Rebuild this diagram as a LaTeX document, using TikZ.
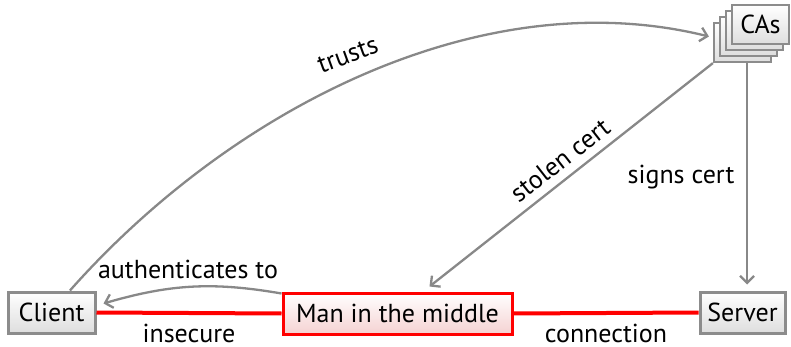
\documentclass[tikz,border=0pt]{standalone}
\usepackage{fontspec}
\setmainfont{PT Sans}
\usetikzlibrary{arrows.meta,calc}
\definecolor{boxgray}{HTML}{8C8C8C}
\definecolor{arrgray}{HTML}{888888}
\definecolor{mred}{HTML}{FF0000}
\definecolor{mpink}{HTML}{F5D2D2}
\begin{document}
\begin{tikzpicture}[x=1pt,y=-1pt,
  txt/.style={font=\fontsize{26}{28}\selectfont, text=black},
  box/.style={txt, draw=boxgray, line width=3pt, top color=white, bottom color=black!13, minimum height=41pt, inner sep=0pt},
  mbox/.style={box, draw=mred, top color=white, bottom color=mpink},
  cabox/.style={box, minimum width=57pt, minimum height=39pt, line width=2.2pt},
  arr/.style={draw=arrgray, line width=2.3pt, -{Straight Barb[length=7pt,width=14pt]}},
  redline/.style={draw=mred, line width=4pt},
  lbl/.style={txt}]
\useasboundingbox (0,0) rectangle (791,347);
% CAs stack
\node[cabox] (cab) at (742.5,42.5) {};
\node[cabox] (cac) at (748.5,36.5) {};
\node[cabox] (cad) at (754.5,30.5) {};
\node[cabox] (ca) at (760.5,24.5) {CAs};
% main nodes
\node[box, minimum width=87pt] (client) at (51.5,312.5) {Client};
\node[mbox, minimum width=229pt] (mitm) at (397.5,313.5) {Man in the middle};
\node[box, minimum width=85pt] (server) at (742.5,312.5) {Server};
% red connection
\draw[redline] (client.east) -- (mitm.west);
\draw[redline] (mitm.east) -- (server.west);
\node[lbl, anchor=base] (insec) at (189,342.5) {insecure};
\node[lbl, anchor=base] (conn) at (606,342.5) {connection};
% arrows
\draw[arr] (client.50) .. controls (230,110) and (480,-20) .. ([xshift=-4pt,yshift=6pt]cab.west);
\node[lbl, rotate=20] (trusts) at (348,55) {trusts};
\draw[arr] (cab.south west) -- ([xshift=32pt,yshift=5pt]mitm.north);
\node[lbl, rotate=38] (stolen) at (560,160) {stolen cert};
\draw[arr] ([xshift=4.5pt]cab.south) -- ([xshift=4.5pt,yshift=6pt]server.north);
\node[lbl] (signs) at (681,177) {signs cert};
\draw[arr] ([yshift=-2pt]mitm.north west) to[bend right=13] ([xshift=7pt,yshift=9pt]client.east);
\node[lbl] (auth) at (188,269) {authenticates to};
\end{tikzpicture}
\end{document}
